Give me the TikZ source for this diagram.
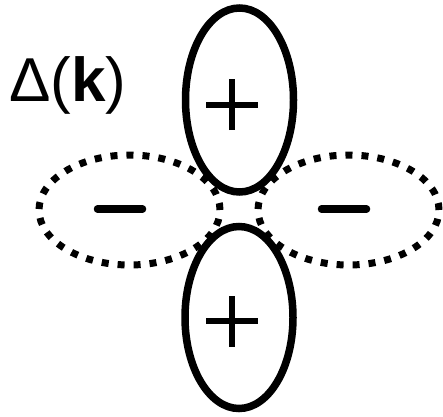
\documentclass[tikz,border=0pt]{standalone}
\usepackage{fontspec}
\setmainfont{Liberation Sans}
\begin{document}
\begin{tikzpicture}[x=1pt,y=1pt,
  lobe/.style={draw=black,line width=7.5pt},
  dotlobe/.style={draw=black,line width=7pt,dash pattern=on 7pt off 9pt},
  signbar/.style={line width=6pt},
  minusbar/.style={line width=7.5pt,line cap=round}]
\useasboundingbox (0,0) rectangle (443,416);
% dotted lobes
\draw[dotlobe] (129.5,206) ellipse [x radius=90.5, y radius=55];
\draw[dotlobe] (348.5,206) ellipse [x radius=90.5, y radius=55];
% solid lobes
\draw[lobe] (239.5,316) ellipse [x radius=54, y radius=92];
\draw[lobe] (239,98.5) ellipse [x radius=54, y radius=91];
% coordinates for signs
\coordinate (tp) at (232,311.5);
\coordinate (bp) at (232,95);
\coordinate (lm) at (120,207);
\coordinate (rm) at (344,207);
% plus signs
\draw[signbar] ([xshift=-26pt]tp) -- ([xshift=26pt]tp);
\draw[signbar] ([yshift=-25.5pt]tp) -- ([yshift=25.5pt]tp);
\draw[signbar] ([xshift=-26pt]bp) -- ([xshift=26pt]bp);
\draw[signbar] ([yshift=-25.5pt]bp) -- ([yshift=25.5pt]bp);
% minus signs
\draw[minusbar] ([xshift=-22.5pt]lm) -- ([xshift=22.5pt]lm);
\draw[minusbar] ([xshift=-22.5pt]rm) -- ([xshift=22.5pt]rm);
% label
\node[anchor=base west,inner sep=0pt,font=\fontsize{62}{74}\selectfont] (lab) at (9,315) {Δ(\textbf{k})};
\end{tikzpicture}
\end{document}
